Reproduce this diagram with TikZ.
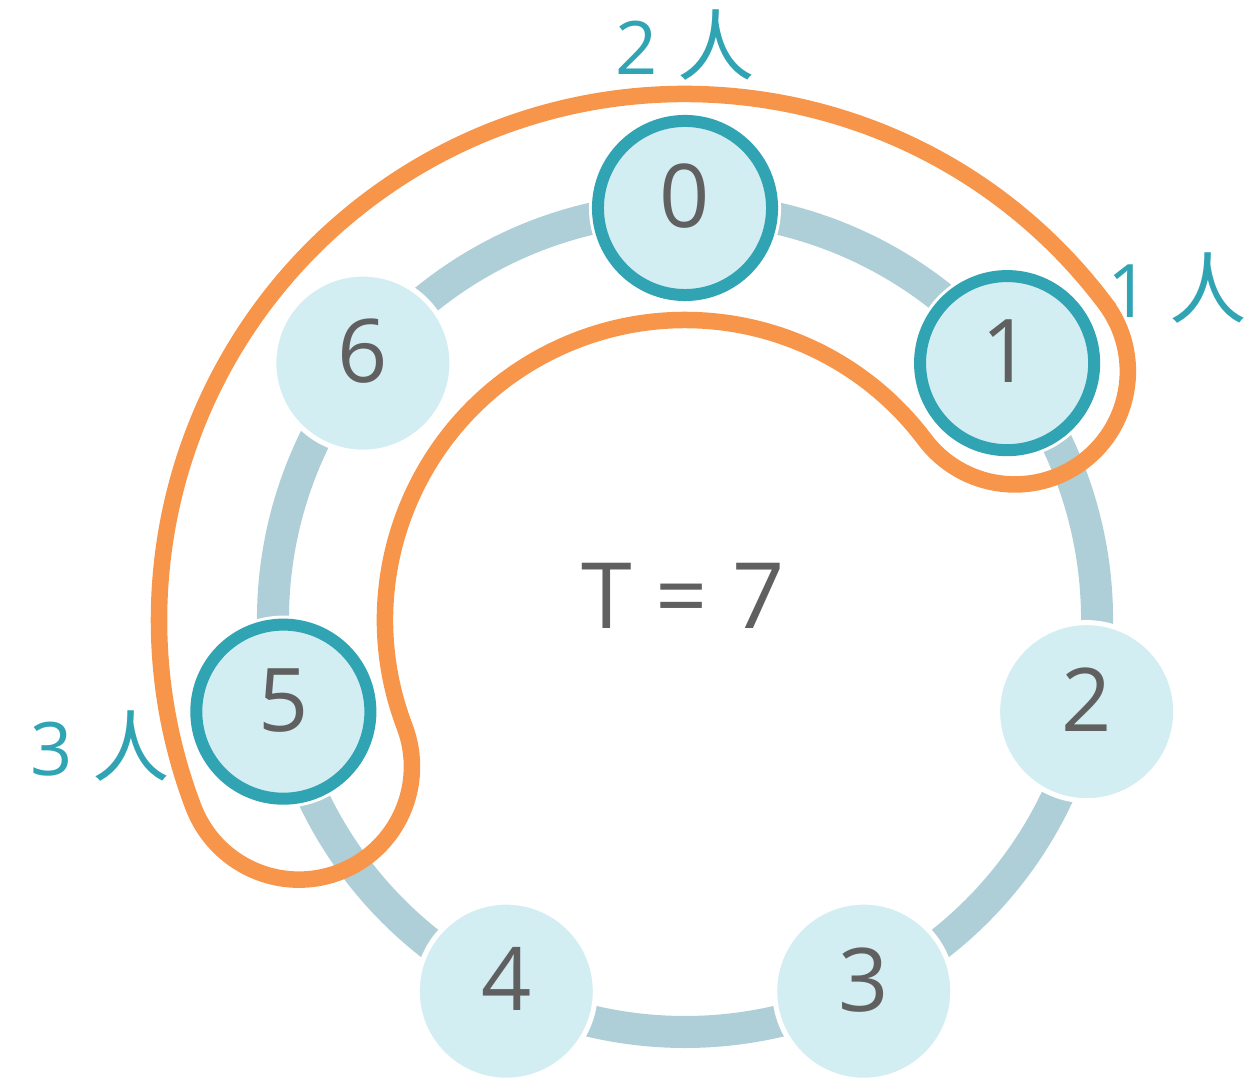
\documentclass[tikz,border=0pt]{standalone}
\usepackage{fontspec}
\setmainfont{Open Sans}
\newfontfamily\cjk{Noto Sans CJK SC}
\usetikzlibrary{calc}
\pgfdeclarelayer{back}
\pgfsetlayers{back,main}
\definecolor{seatfill}{HTML}{D3EEF3}
\definecolor{seatteal}{HTML}{31A4B4}
\definecolor{ringgray}{HTML}{AECFD8}
\definecolor{looporange}{HTML}{F7964A}
\definecolor{numgray}{HTML}{606060}

\begin{document}
\begin{tikzpicture}[x=0.01cm, y=0.01cm,
	seat/.style={circle, inner sep=0pt, fill=seatfill, draw=white, line width=0.5mm, minimum size=17.8mm, text=numgray, text depth=2.4mm, font=\fontsize{25}{25}\selectfont},
	taken/.style={seat, draw=seatteal, line width=1.2mm, minimum size=17.4mm, preaction={draw=white, line width=1.8mm}},
	ring/.style={draw=ringgray, line width=3.2mm, bend left=25.71, looseness=0.9},
	headcount/.style={text=seatteal, font=\fontsize{21}{21}\selectfont}]
	\useasboundingbox (0,0) rectangle (1246,1079);
	\coordinate (c) at (685,459);
	% seats round the table
	\node[taken] (n0) at ($(c)+(90:412)$) {0};
	\node[taken] (n1) at ($(c)+(38.571:412)$) {1};
	\node[seat] (n2) at ($(c)+(-12.857:412)$) {2};
	\node[seat] (n3) at ($(c)+(-64.286:412)$) {3};
	\node[seat] (n4) at ($(c)+(-115.714:412)$) {4};
	\node[taken] (n5) at ($(c)+(-167.143:412)$) {5};
	\node[seat] (n6) at ($(c)+(141.429:412)$) {6};
	\begin{pgfonlayer}{back}
		\draw[ring] (n0.center) to (n1.center) to (n2.center) to (n3.center) to (n4.center) to (n5.center) to (n6.center) to (n0.center);
	\end{pgfonlayer}
	% the group loop
	\draw[looporange, line width=1.65mm] ($(c)+(37:526)$) arc[start angle=37, end angle=200.8, radius=526]
		arc[start angle=200.8, end angle=380.8, radius=113]
		arc[start angle=200.8, end angle=37, radius=300]
		arc[start angle=217, end angle=397, radius=113] -- cycle;
	\node[text=numgray, font=\fontsize{26}{26}\selectfont] (t) at (683,483) {T = 7};
	\node[headcount] (h0) at (685,1034) {2 {\cjk\fontsize{22}{22}\selectfont 人}};
	\node[headcount] (h1) at (1177,791) {1 {\cjk\fontsize{22}{22}\selectfont 人}};
	\node[headcount] (h5) at (100,333) {3 {\cjk\fontsize{22}{22}\selectfont 人}};
\end{tikzpicture}
\end{document}
